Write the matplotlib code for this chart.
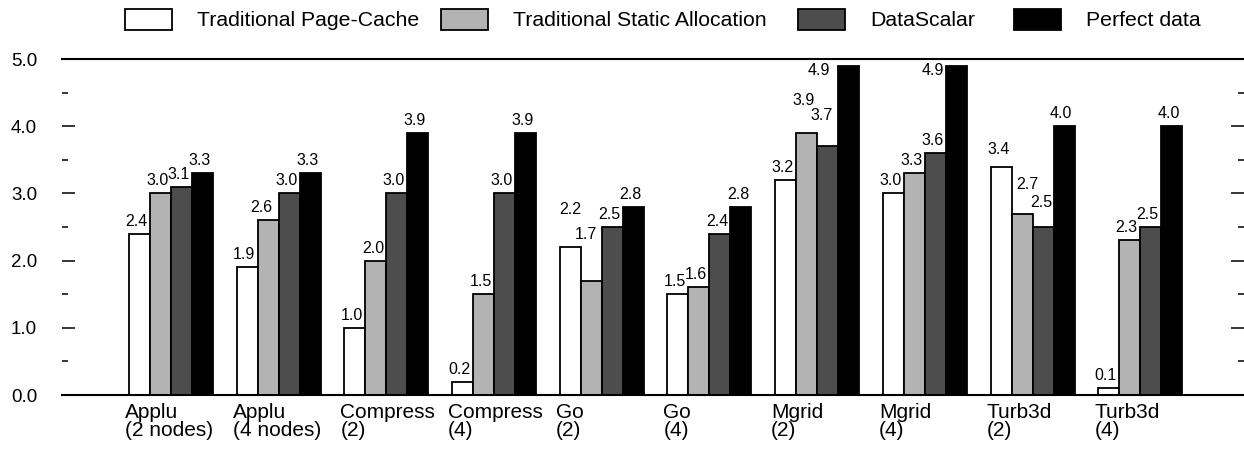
import matplotlib.pyplot as plt
import numpy as np
from matplotlib.patches import Rectangle
from matplotlib.ticker import MultipleLocator

plt.rcParams["font.family"] = ["Liberation Sans", "DejaVu Sans"]

CATEGORIES = [
    "Applu\n(2 nodes)", "Applu\n(4 nodes)", "Compress\n(2)", "Compress\n(4)",
    "Go\n(2)", "Go\n(4)", "Mgrid\n(2)", "Mgrid\n(4)", "Turb3d\n(2)", "Turb3d\n(4)",
]
SERIES = [
    "Traditional Page-Cache", "Traditional Static Allocation",
    "DataScalar", "Perfect data",
]
page_cache = [2.4, 1.9, 1.0, 0.2, 2.2, 1.5, 3.2, 3.0, 3.4, 0.1]
static_alloc = [3.0, 2.6, 2.0, 1.5, 1.7, 1.6, 3.9, 3.3, 2.7, 2.3]
datascalar = [3.1, 3.0, 3.0, 3.0, 2.5, 2.4, 3.7, 3.6, 2.5, 2.5]
perfect = [3.3, 3.3, 3.9, 3.9, 2.8, 2.8, 4.9, 4.9, 4.0, 4.0]

COLORS = ["white", "#b3b3b3", "#4d4d4d", "black"]
BAR_W = 0.195
W, H = 1244, 450

# legend swatch left edges, in pixels
LEGEND_X = [125, 441, 798, 1014]

# label nudges in pixels (group, series) -> (dx, dy); default is (-3, 5)
LABEL_NUDGE = {
    (1, 1): (-7, 5),
    (4, 0): (0, 30),
    (4, 1): (-5, 39),
    (6, 1): (-3, 25),
    (6, 2): (-6, 23),
    (6, 3): (-30, -12),
    (7, 3): (-24, -12),
    (8, 0): (-2, 10),
    (8, 1): (5, 22),
    (8, 2): (-2, 17),
}


def main():
    fig = plt.figure(figsize=(W / 100, H / 100), dpi=100)
    ax = fig.add_axes([62 / W, 55 / H, 1182 / W, 336 / H])

    x = np.arange(len(CATEGORIES))
    all_values = [page_cache, static_alloc, datascalar, perfect]

    for k, (vals, color) in enumerate(zip(all_values, COLORS)):
        pos = x + (k - 1.5) * BAR_W
        ax.bar(pos, vals, width=BAR_W, color=color, edgecolor="black",
               linewidth=1.3, zorder=2)
        for g, (p, v) in enumerate(zip(pos, vals)):
            dx, dy = LABEL_NUDGE.get((g, k), (-3, 5))
            ax.annotate(f"{v:.1f}", (p, v), xytext=(dx, dy),
                        textcoords="offset pixels", ha="center", va="bottom",
                        fontsize=11.5)

    for g, label in enumerate(CATEGORIES):
        ax.annotate(label, (g - 2 * BAR_W, 0), xytext=(-4, -8),
                    textcoords="offset pixels", ha="left", va="top",
                    fontsize=15, linespacing=0.9, annotation_clip=False)

    ax.set_xlim(-1.012, 9.963)
    ax.set_ylim(0, 5)
    ax.set_xticks([])
    ax.yaxis.set_major_locator(MultipleLocator(1))
    ax.yaxis.set_minor_locator(MultipleLocator(0.5))
    ax.yaxis.set_major_formatter("{x:.1f}")
    ax.tick_params(axis="y", which="both", direction="in", left=True,
                   right=True, width=1.1, labelsize=13.5, pad=18)
    ax.tick_params(axis="y", which="major", length=9.5)
    ax.tick_params(axis="y", which="minor", length=4.5)
    for side in ("left", "right"):
        ax.spines[side].set_visible(False)
    for side in ("top", "bottom"):
        ax.spines[side].set_linewidth(1.5)

    # legend row drawn by hand to keep the uneven spacing of the original
    sw, sh, yc = 47, 21, 19
    for x0, color, name in zip(LEGEND_X, COLORS, SERIES):
        fig.add_artist(Rectangle((x0 / W, (H - yc - sh / 2) / H), sw / W, sh / H,
                                 transform=fig.transFigure, facecolor=color,
                                 edgecolor="black", linewidth=1.3))
        fig.text((x0 + sw + 25) / W, (H - yc - 2) / H, name, ha="left",
                 va="center", fontsize=15.3)

    fig.savefig("out.png", dpi=100)


if __name__ == "__main__":
    main()
